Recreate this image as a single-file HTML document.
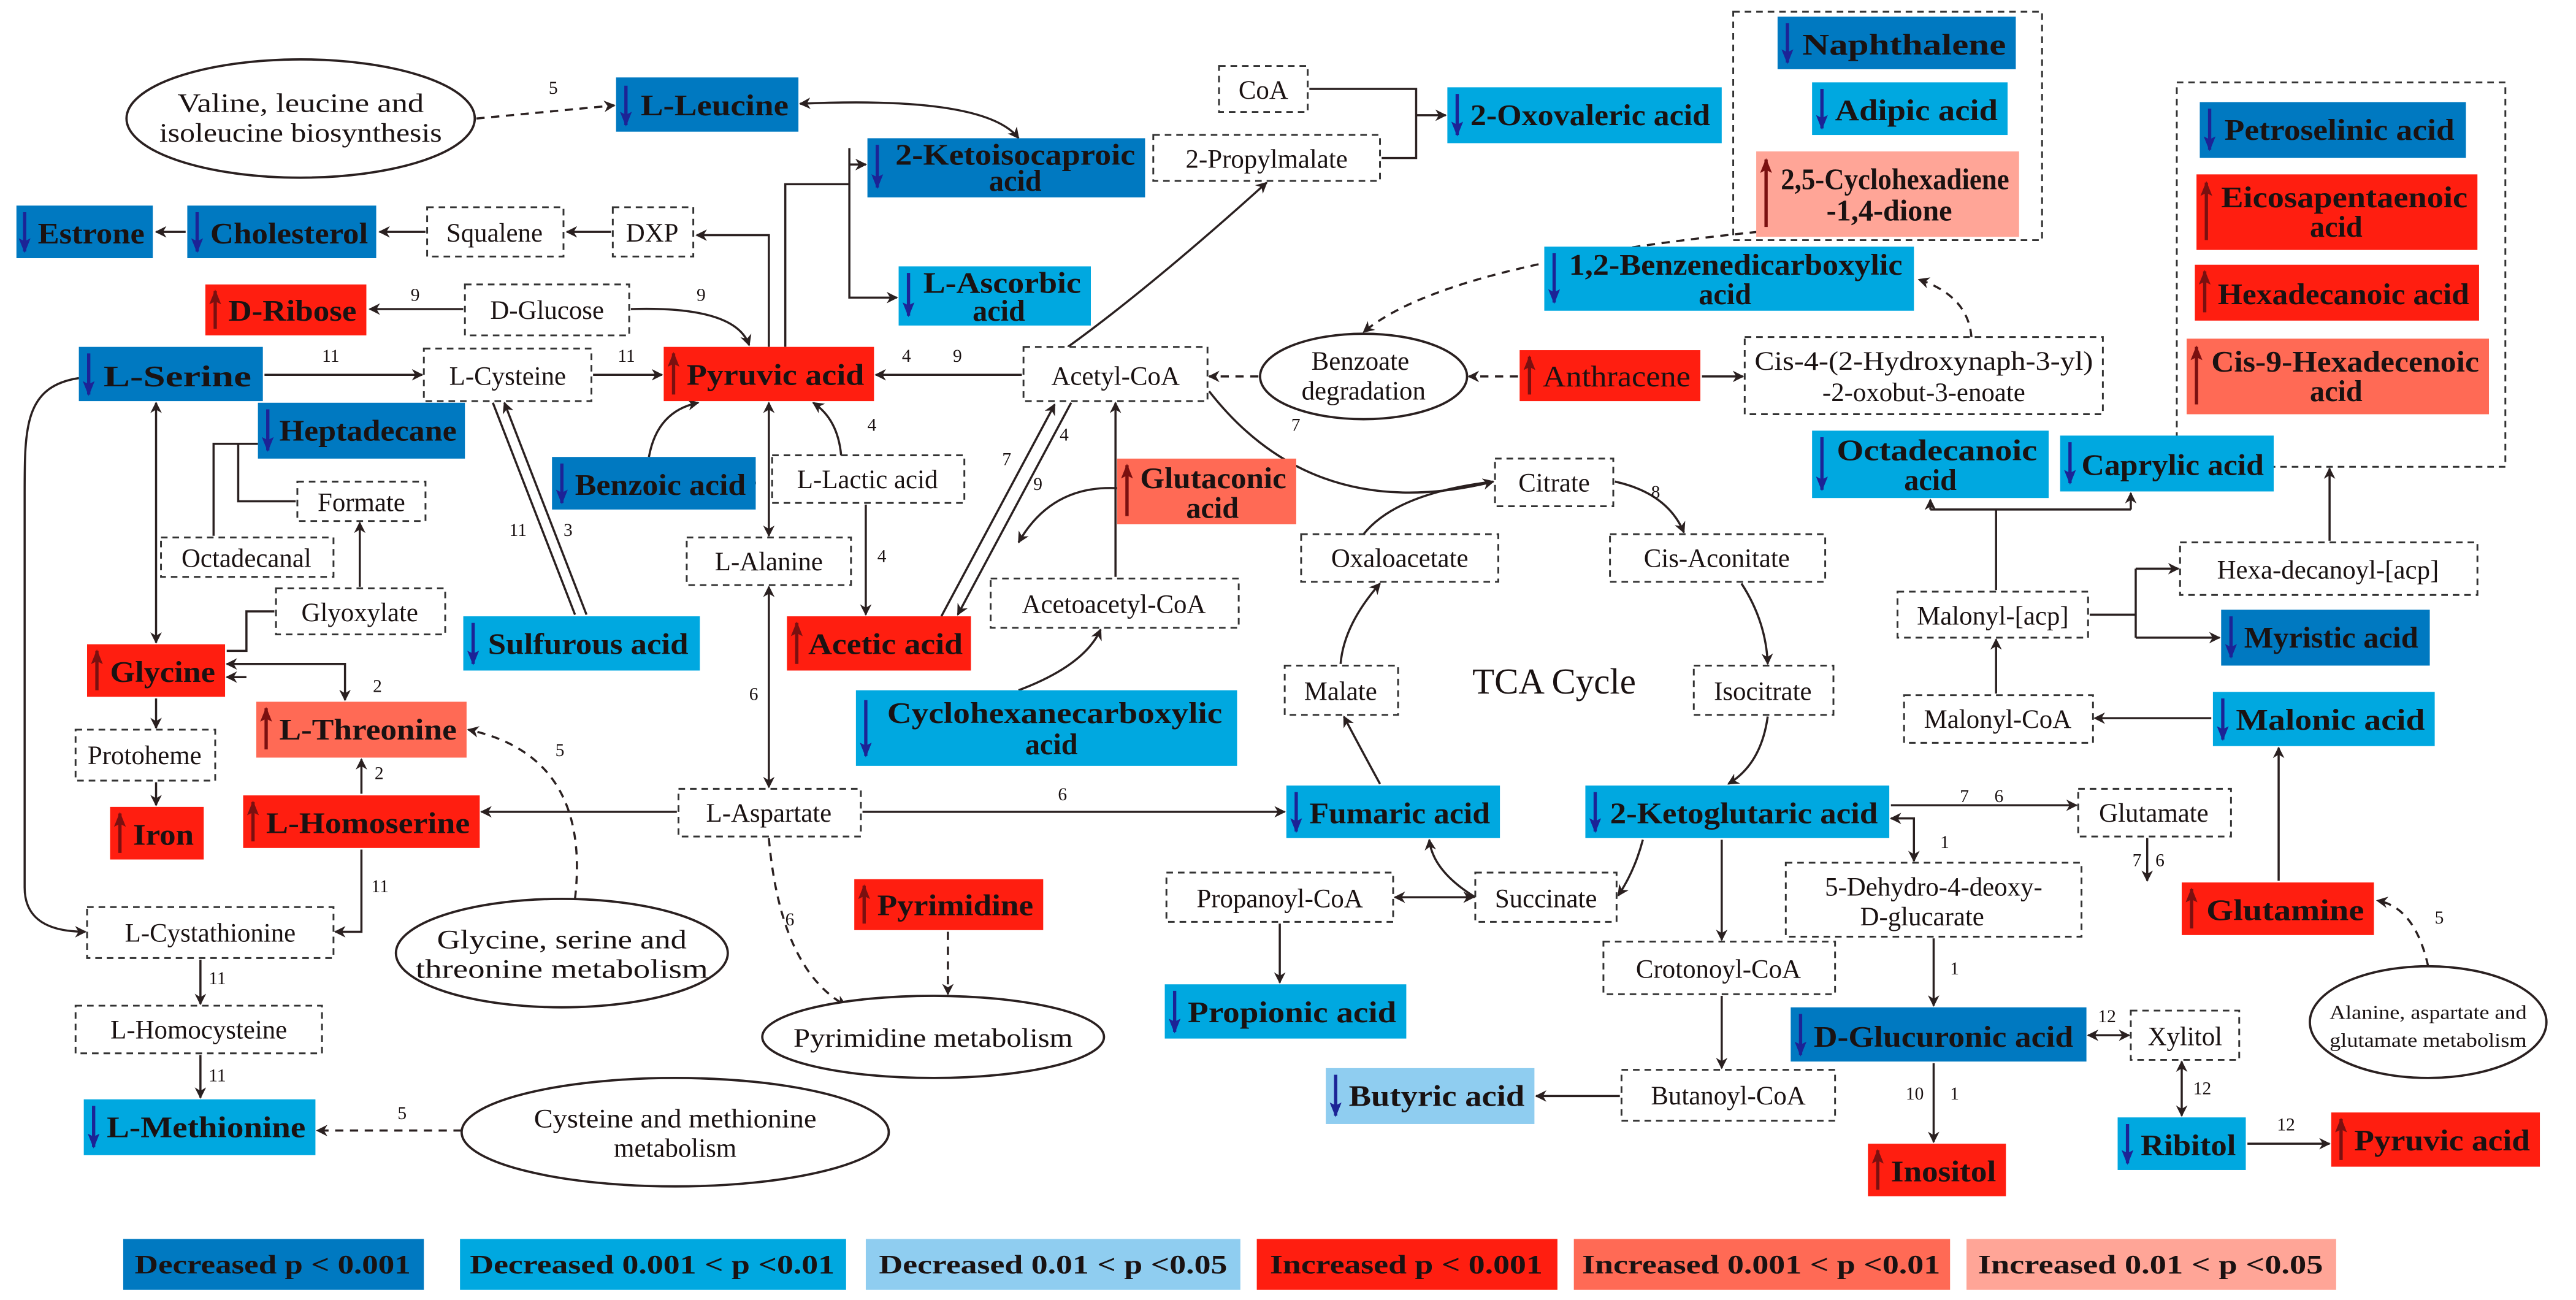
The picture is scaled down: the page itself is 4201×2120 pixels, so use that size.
<!DOCTYPE html>
<html><head><meta charset="utf-8"><style>
html,body{margin:0;padding:0;background:#fff;}
svg{display:block;}
text{font-family:"Liberation Serif",serif;fill:#1a1212;}
.b{font-weight:bold;font-size:18px;}
.n{font-size:16px;}
.s{font-size:11px;}
.db{fill:#0079c1}.mb{fill:#00a8e0}.lb{fill:#8fcdf0}.rd{fill:#ff1e10}.co{fill:#ff6a55}.lc{fill:#ffa597}
.dash{fill:#fff;stroke:#333;stroke-width:1.1;stroke-dasharray:4 3}
.ln{fill:none;stroke:#2a2020;stroke-width:1.3}
.dl{fill:none;stroke:#2a2020;stroke-width:1.3;stroke-dasharray:5 4}
.ell{fill:#fff;stroke:#2a2020;stroke-width:1.4}
.dn{stroke:#1c2396;stroke-width:2}.up{stroke:#7a1010;stroke-width:2}
</style></head><body>
<svg width="4201" height="2120" viewBox="0 0 1568 791" xmlns="http://www.w3.org/2000/svg">
<defs>
<marker id="a" viewBox="0 0 10 10" refX="9" refY="5" markerWidth="7" markerHeight="7" markerUnits="userSpaceOnUse" orient="auto-start-reverse"><path d="M0,0 L10,5 L0,10 L3,5 z" fill="#2a2020"/></marker>
<marker id="ad" viewBox="0 0 10 10" refX="9" refY="5" markerWidth="9" markerHeight="9" markerUnits="userSpaceOnUse" orient="auto"><path d="M0,1 L10,5 L0,9 L2,5 z" fill="#1c2396"/></marker>
<marker id="au" viewBox="0 0 10 10" refX="9" refY="5" markerWidth="9" markerHeight="9" markerUnits="userSpaceOnUse" orient="auto"><path d="M0,1 L10,5 L0,9 L2,5 z" fill="#7a1010"/></marker>
</defs>
<rect width="1568" height="791" fill="#fff"/>

<!-- group dotted boxes -->
<rect x="1055" y="7" width="188" height="139" class="dash"/>
<rect x="1325" y="50" width="200" height="234" class="dash"/>

<!-- ============ EDGES ============ -->
<path d="M290,72 L374,64" class="dl" marker-end="url(#a)"/><text x="334" y="57" class="s">5</text>
<path d="M487,63 Q600,58 620,84" class="ln" marker-start="url(#a)" marker-end="url(#a)"/>
<path d="M468,211 L468,143 L424,143" class="ln" marker-end="url(#a)"/>
<path d="M478,211 L478,112 L517,112" class="ln"/>
<path d="M517,100 L527,100" class="ln" marker-end="url(#a)"/>
<path d="M517,90 L517,181 L546,181" class="ln" marker-end="url(#a)"/>
<path d="M517,100 L527,100" class="ln" marker-end="url(#a)"/>
<path d="M372,141 L345,141" class="ln" marker-end="url(#a)"/>
<path d="M259,141 L231,141" class="ln" marker-end="url(#a)"/>
<path d="M113,141 L95,141" class="ln" marker-end="url(#a)"/>
<path d="M282,188 L225,188" class="ln" marker-end="url(#a)"/><text x="250" y="183" class="s">9</text>
<path d="M384,188 Q448,186 456,210" class="ln" marker-end="url(#a)"/><text x="424" y="183" class="s">9</text>
<path d="M161,228 L257,228" class="ln" marker-end="url(#a)"/><text x="196" y="220" class="s">11</text>
<path d="M361,228 L403,228" class="ln" marker-end="url(#a)"/><text x="376" y="220" class="s">11</text>
<path d="M622,228 L533,228" class="ln" marker-end="url(#a)"/><text x="549" y="220" class="s">4</text><text x="580" y="220" class="s">9</text>
<path d="M650,211 Q700,175 771,111" class="ln" marker-end="url(#a)"/>
<path d="M797,54 L862,54 L862,96 L841,96" class="ln"/>
<path d="M862,70 L880,70" class="ln" marker-end="url(#a)"/>
<path d="M766,229 L736,229" class="dl" marker-end="url(#a)"/>
<path d="M924,229 L894,229" class="dl" marker-end="url(#a)"/>
<path d="M1036,229 L1061,229" class="ln" marker-end="url(#a)"/>
<path d="M1200,205 Q1198,180 1168,170" class="dl" marker-end="url(#a)"/>
<path d="M1070,141 Q880,160 830,202" class="dl" marker-end="url(#a)"/>
<path d="M736,238 Q800,320 909,293" class="ln" marker-end="url(#a)"/><text x="786" y="262" class="s">7</text>
<path d="M830,325 Q850,300 909,293" class="ln"/>
<path d="M983,293 Q1015,300 1025,324" class="ln" marker-end="url(#a)"/><text x="1005" y="303" class="s">8</text>
<path d="M1060,355 Q1075,378 1076,404" class="ln" marker-end="url(#a)"/>
<path d="M1076,436 Q1072,465 1052,477" class="ln" marker-end="url(#a)"/>
<path d="M1000,511 Q995,530 985,545" class="ln" marker-end="url(#a)"/>
<path d="M898,546 Q872,530 870,511" class="ln" marker-end="url(#a)"/>
<path d="M840,477 Q828,455 818,436" class="ln" marker-end="url(#a)"/>
<path d="M816,404 Q818,380 840,355" class="ln" marker-end="url(#a)"/>
<path d="M849,546 L897,546" class="ln" marker-start="url(#a)" marker-end="url(#a)"/>
<path d="M779,562 L779,598" class="ln" marker-end="url(#a)"/>
<path d="M1048,511 L1048,572" class="ln" marker-end="url(#a)"/>
<path d="M1048,606 L1048,650" class="ln" marker-end="url(#a)"/>
<path d="M986,667 L935,667" class="ln" marker-end="url(#a)"/>
<path d="M1151,490 L1264,490" class="ln" marker-end="url(#a)"/><text x="1193" y="488" class="s">7</text><text x="1214" y="488" class="s">6</text>
<path d="M1151,498 L1165,498 L1165,524" class="ln" marker-start="url(#a)" marker-end="url(#a)"/><text x="1181" y="516" class="s">1</text>
<path d="M1177,571 L1177,612" class="ln" marker-end="url(#a)"/><text x="1187" y="593" class="s">1</text>
<path d="M1177,647 L1177,695" class="ln" marker-end="url(#a)"/><text x="1160" y="669" class="s">10</text><text x="1187" y="669" class="s">1</text>
<path d="M1271,630 L1296,630" class="ln" marker-start="url(#a)" marker-end="url(#a)"/><text x="1277" y="622" class="s">12</text>
<path d="M1328,646 L1328,679" class="ln" marker-start="url(#a)" marker-end="url(#a)"/><text x="1335" y="666" class="s">12</text>
<path d="M1368,696 L1418,696" class="ln" marker-end="url(#a)"/><text x="1386" y="688" class="s">12</text>
<path d="M1307,510 L1307,536" class="ln" marker-end="url(#a)"/><text x="1298" y="527" class="s">7</text><text x="1312" y="527" class="s">6</text>
<path d="M1387,536 L1387,455" class="ln" marker-end="url(#a)"/>
<path d="M1346,437 L1275,437" class="ln" marker-end="url(#a)"/>
<path d="M1215,422 L1215,389" class="ln" marker-end="url(#a)"/>
<path d="M1272,374 L1300,374" class="ln"/>
<path d="M1300,346 L1300,388" class="ln"/>
<path d="M1300,346 L1326,346" class="ln" marker-end="url(#a)"/>
<path d="M1300,388 L1351,388" class="ln" marker-end="url(#a)"/>
<path d="M1215,359 L1215,310" class="ln"/>
<path d="M1175,310 L1297,310" class="ln"/>
<path d="M1175,310 L1175,304" class="ln" marker-end="url(#a)"/>
<path d="M1297,310 L1297,300" class="ln" marker-end="url(#a)"/>
<path d="M1418,329 L1418,285" class="ln" marker-end="url(#a)"/>
<path d="M1478,588 Q1470,552 1447,548" class="dl" marker-end="url(#a)"/><text x="1482" y="562" class="s">5</text>
<path d="M468,245 L468,326" class="ln" marker-start="url(#a)" marker-end="url(#a)"/><text x="455" y="296" class="s">6</text>
<path d="M468,357 L468,479" class="ln" marker-start="url(#a)" marker-end="url(#a)"/><text x="456" y="426" class="s">6</text>
<path d="M412,494 L293,494" class="ln" marker-end="url(#a)"/>
<path d="M525,494 L782,494" class="ln" marker-end="url(#a)"/><text x="644" y="487" class="s">6</text>
<path d="M468,510 Q475,590 515,612" class="dl" marker-end="url(#a)"/><text x="478" y="563" class="s">6</text>
<path d="M577,567 L577,605" class="dl" marker-end="url(#a)"/>
<path d="M220,483 L220,462" class="ln" marker-end="url(#a)"/><text x="228" y="474" class="s">2</text>
<path d="M138,404 L210,404 L210,426" class="ln" marker-start="url(#a)" marker-end="url(#a)"/><text x="227" y="421" class="s">2</text>
<path d="M220,517 L220,567 L204,567" class="ln" marker-end="url(#a)"/><text x="226" y="543" class="s">11</text>
<path d="M48,230 C15,235 15,260 15,300 L15,540 C15,560 30,567 52,567" class="ln" marker-end="url(#a)"/>
<path d="M95,245 L95,391" class="ln" marker-start="url(#a)" marker-end="url(#a)"/>
<path d="M157,270 L130,270 L130,326" class="ln"/>
<path d="M145,270 L145,305 L180,305" class="ln"/>
<path d="M219,357 L219,318" class="ln" marker-end="url(#a)"/>
<path d="M167,372 L150,372 L150,396 L138,396" class="ln"/>
<path d="M138,412 L150,412 L138,412" class="ln" marker-end="url(#a)"/>
<path d="M95,425 L95,443" class="ln" marker-end="url(#a)"/>
<path d="M95,476 L95,490" class="ln" marker-end="url(#a)"/>
<path d="M350,547 Q360,460 285,444" class="dl" marker-end="url(#a)"/><text x="338" y="460" class="s">5</text>
<path d="M122,584 L122,611" class="ln" marker-end="url(#a)"/><text x="127" y="599" class="s">11</text>
<path d="M122,642 L122,668" class="ln" marker-end="url(#a)"/><text x="127" y="658" class="s">11</text>
<path d="M281,688 L193,688" class="dl" marker-end="url(#a)"/><text x="242" y="681" class="s">5</text>
<path d="M300,245 L350,374" class="ln"/>
<path d="M357,374 L307,245" class="ln" marker-end="url(#a)"/>
<text x="310" y="326" class="s">11</text><text x="343" y="326" class="s">3</text>
<path d="M395,278 Q400,250 425,245" class="ln" marker-end="url(#a)"/>
<path d="M512,277 Q510,255 495,245" class="ln" marker-end="url(#a)"/><text x="528" y="262" class="s">4</text>
<path d="M527,307 L527,374" class="ln" marker-end="url(#a)"/><text x="534" y="342" class="s">4</text>
<path d="M573,375 L642,246" class="ln" marker-end="url(#a)"/>
<path d="M652,245 L583,374" class="ln" marker-end="url(#a)"/>
<text x="610" y="283" class="s">7</text><text x="645" y="268" class="s">4</text><text x="629" y="298" class="s">9</text>
<path d="M680,297 Q640,295 620,330" class="ln" marker-end="url(#a)"/>
<path d="M679,351 L679,245" class="ln" marker-end="url(#a)"/>
<path d="M620,420 Q660,405 670,383" class="ln" marker-end="url(#a)"/>

<!-- ============ ELLIPSES ============ -->
<ellipse cx="183" cy="72" rx="106" ry="36" class="ell"/>
<text x="183" y="68" class="n" text-anchor="middle" textLength="150" lengthAdjust="spacingAndGlyphs">Valine, leucine and</text>
<text x="183" y="86" class="n" text-anchor="middle" textLength="172" lengthAdjust="spacingAndGlyphs">isoleucine biosynthesis</text>
<ellipse cx="830" cy="229" rx="63" ry="26" class="ell"/>
<text x="828" y="225" class="n" text-anchor="middle">Benzoate</text>
<text x="830" y="243" class="n" text-anchor="middle">degradation</text>
<ellipse cx="342" cy="580" rx="101" ry="33" class="ell"/>
<text x="342" y="577" class="n" text-anchor="middle" textLength="152" lengthAdjust="spacingAndGlyphs">Glycine, serine and</text>
<text x="342" y="595" class="n" text-anchor="middle" textLength="178" lengthAdjust="spacingAndGlyphs">threonine metabolism</text>
<ellipse cx="1478" cy="622" rx="72" ry="34" class="ell"/>
<text x="1478" y="620" style="font-size:12px" text-anchor="middle" textLength="120" lengthAdjust="spacingAndGlyphs">Alanine, aspartate and</text>
<text x="1478" y="637" style="font-size:12px" text-anchor="middle" textLength="120" lengthAdjust="spacingAndGlyphs">glutamate metabolism</text>
<ellipse cx="568" cy="631" rx="104" ry="25" class="ell"/>
<text x="568" y="637" class="n" text-anchor="middle" textLength="170" lengthAdjust="spacingAndGlyphs">Pyrimidine metabolism</text>
<ellipse cx="411" cy="689" rx="130" ry="33" class="ell"/>
<text x="411" y="686" class="n" text-anchor="middle" textLength="172" lengthAdjust="spacingAndGlyphs">Cysteine and methionine</text>
<text x="411" y="704" class="n" text-anchor="middle">metabolism</text>

<text x="946" y="422" style="font-size:22px" text-anchor="middle">TCA Cycle</text>

<!-- ============ DASHED NODES ============ -->
<g class="n">
<rect x="742" y="40" width="54" height="28" class="dash"/><text x="769" y="60" text-anchor="middle">CoA</text>
<rect x="702" y="82" width="138" height="28" class="dash"/><text x="771" y="102" text-anchor="middle">2-Propylmalate</text>
<rect x="260" y="126" width="83" height="30" class="dash"/><text x="301" y="147" text-anchor="middle">Squalene</text>
<rect x="373" y="126" width="49" height="30" class="dash"/><text x="397" y="147" text-anchor="middle">DXP</text>
<rect x="283" y="173" width="100" height="31" class="dash"/><text x="333" y="194" text-anchor="middle">D-Glucose</text>
<rect x="258" y="212" width="102" height="32" class="dash"/><text x="309" y="234" text-anchor="middle">L-Cysteine</text>
<rect x="623" y="211" width="112" height="33" class="dash"/><text x="679" y="234" text-anchor="middle">Acetyl-CoA</text>
<rect x="1062" y="205" width="218" height="47" class="dash"/><text x="1171" y="225" text-anchor="middle" textLength="206" lengthAdjust="spacingAndGlyphs">Cis-4-(2-Hydroxynaph-3-yl)</text><text x="1171" y="244" text-anchor="middle">-2-oxobut-3-enoate</text>
<rect x="181" y="293" width="78" height="24" class="dash"/><text x="220" y="311" text-anchor="middle">Formate</text>
<rect x="470" y="277" width="117" height="29" class="dash"/><text x="528" y="297" text-anchor="middle">L-Lactic acid</text>
<rect x="910" y="279" width="72" height="29" class="dash"/><text x="946" y="299" text-anchor="middle">Citrate</text>
<rect x="98" y="327" width="105" height="24" class="dash"/><text x="150" y="345" text-anchor="middle">Octadecanal</text>
<rect x="418" y="327" width="100" height="29" class="dash"/><text x="468" y="347" text-anchor="middle">L-Alanine</text>
<rect x="792" y="325" width="120" height="29" class="dash"/><text x="852" y="345" text-anchor="middle">Oxaloacetate</text>
<rect x="980" y="325" width="131" height="29" class="dash"/><text x="1045" y="345" text-anchor="middle">Cis-Aconitate</text>
<rect x="1327" y="330" width="181" height="32" class="dash"/><text x="1417" y="352" text-anchor="middle">Hexa-decanoyl-[acp]</text>
<rect x="168" y="358" width="103" height="28" class="dash"/><text x="219" y="378" text-anchor="middle">Glyoxylate</text>
<rect x="603" y="352" width="151" height="30" class="dash"/><text x="678" y="373" text-anchor="middle">Acetoacetyl-CoA</text>
<rect x="1155" y="360" width="116" height="28" class="dash"/><text x="1213" y="380" text-anchor="middle">Malonyl-[acp]</text>
<rect x="782" y="405" width="69" height="30" class="dash"/><text x="816" y="426" text-anchor="middle">Malate</text>
<rect x="1031" y="405" width="85" height="30" class="dash"/><text x="1073" y="426" text-anchor="middle">Isocitrate</text>
<rect x="1159" y="423" width="115" height="29" class="dash"/><text x="1216" y="443" text-anchor="middle">Malonyl-CoA</text>
<rect x="46" y="444" width="85" height="31" class="dash"/><text x="88" y="465" text-anchor="middle">Protoheme</text>
<rect x="413" y="480" width="111" height="29" class="dash"/><text x="468" y="500" text-anchor="middle">L-Aspartate</text>
<rect x="1265" y="480" width="93" height="29" class="dash"/><text x="1311" y="500" text-anchor="middle">Glutamate</text>
<rect x="710" y="531" width="138" height="30" class="dash"/><text x="779" y="552" text-anchor="middle">Propanoyl-CoA</text>
<rect x="898" y="531" width="86" height="30" class="dash"/><text x="941" y="552" text-anchor="middle">Succinate</text>
<rect x="1087" y="525" width="180" height="45" class="dash"/><text x="1177" y="545" text-anchor="middle">5-Dehydro-4-deoxy-</text><text x="1170" y="563" text-anchor="middle">D-glucarate</text>
<rect x="53" y="552" width="150" height="31" class="dash"/><text x="128" y="573" text-anchor="middle">L-Cystathionine</text>
<rect x="976" y="573" width="141" height="32" class="dash"/><text x="1046" y="595" text-anchor="middle">Crotonoyl-CoA</text>
<rect x="46" y="612" width="150" height="29" class="dash"/><text x="121" y="632" text-anchor="middle">L-Homocysteine</text>
<rect x="1297" y="615" width="66" height="30" class="dash"/><text x="1330" y="636" text-anchor="middle">Xylitol</text>
<rect x="987" y="651" width="130" height="31" class="dash"/><text x="1052" y="672" text-anchor="middle">Butanoyl-CoA</text>
</g>

<!-- ============ COLORED NODES ============ -->
<g class="b">
<!-- dark blue -->
<rect x="375" y="47" width="111" height="33" class="db"/><line x1="381" y1="52" x2="381" y2="76" class="dn" marker-end="url(#ad)"/><text x="390" y="70" textLength="90" lengthAdjust="spacingAndGlyphs">L-Leucine</text>
<rect x="528" y="84" width="169" height="36" class="db"/><line x1="534" y1="88" x2="534" y2="114" class="dn" marker-end="url(#ad)"/><text x="545" y="100" textLength="146" lengthAdjust="spacingAndGlyphs">2-Ketoisocaproic</text><text x="618" y="116" text-anchor="middle">acid</text>
<rect x="1082" y="10" width="145" height="32" class="db"/><line x1="1088" y1="14" x2="1088" y2="38" class="dn" marker-end="url(#ad)"/><text x="1097" y="33" textLength="124" lengthAdjust="spacingAndGlyphs">Naphthalene</text>
<rect x="1339" y="62" width="162" height="34" class="db"/><line x1="1345" y1="66" x2="1345" y2="91" class="dn" marker-end="url(#ad)"/><text x="1354" y="85" textLength="140" lengthAdjust="spacingAndGlyphs">Petroselinic acid</text>
<rect x="10" y="125" width="83" height="32" class="db"/><line x1="15" y1="129" x2="15" y2="153" class="dn" marker-end="url(#ad)"/><text x="23" y="148" textLength="65" lengthAdjust="spacingAndGlyphs">Estrone</text>
<rect x="114" y="125" width="115" height="32" class="db"/><line x1="120" y1="129" x2="120" y2="153" class="dn" marker-end="url(#ad)"/><text x="128" y="148" textLength="96" lengthAdjust="spacingAndGlyphs">Cholesterol</text>
<rect x="48" y="211" width="112" height="33" class="db"/><line x1="54" y1="215" x2="54" y2="240" class="dn" marker-end="url(#ad)"/><text x="63" y="235" textLength="90" lengthAdjust="spacingAndGlyphs">L-Serine</text>
<rect x="157" y="245" width="126" height="34" class="db"/><line x1="163" y1="249" x2="163" y2="274" class="dn" marker-end="url(#ad)"/><text x="170" y="268" textLength="108" lengthAdjust="spacingAndGlyphs">Heptadecane</text>
<rect x="336" y="278" width="124" height="32" class="db"/><line x1="342" y1="282" x2="342" y2="306" class="dn" marker-end="url(#ad)"/><text x="350" y="301" textLength="104" lengthAdjust="spacingAndGlyphs">Benzoic acid</text>
<rect x="1352" y="371" width="127" height="34" class="db"/><line x1="1358" y1="375" x2="1358" y2="400" class="dn" marker-end="url(#ad)"/><text x="1366" y="394" textLength="106" lengthAdjust="spacingAndGlyphs">Myristic acid</text>
<rect x="1090" y="613" width="180" height="33" class="db"/><line x1="1096" y1="617" x2="1096" y2="642" class="dn" marker-end="url(#ad)"/><text x="1104" y="637" textLength="158" lengthAdjust="spacingAndGlyphs">D-Glucuronic acid</text>
<!-- mid blue -->
<rect x="881" y="53" width="167" height="34" class="mb"/><line x1="887" y1="57" x2="887" y2="82" class="dn" marker-end="url(#ad)"/><text x="895" y="76" textLength="146" lengthAdjust="spacingAndGlyphs">2-Oxovaleric acid</text>
<rect x="1103" y="50" width="119" height="32" class="mb"/><line x1="1109" y1="54" x2="1109" y2="78" class="dn" marker-end="url(#ad)"/><text x="1117" y="73" textLength="99" lengthAdjust="spacingAndGlyphs">Adipic acid</text>
<rect x="547" y="162" width="117" height="36" class="mb"/><line x1="553" y1="166" x2="553" y2="192" class="dn" marker-end="url(#ad)"/><text x="562" y="178" textLength="96" lengthAdjust="spacingAndGlyphs">L-Ascorbic</text><text x="608" y="195" text-anchor="middle">acid</text>
<rect x="940" y="150" width="225" height="39" class="mb"/><line x1="946" y1="154" x2="946" y2="184" class="dn" marker-end="url(#ad)"/><text x="955" y="167" textLength="203" lengthAdjust="spacingAndGlyphs">1,2-Benzenedicarboxylic</text><text x="1050" y="185" text-anchor="middle">acid</text>
<rect x="1103" y="262" width="144" height="41" class="mb"/><line x1="1109" y1="266" x2="1109" y2="298" class="dn" marker-end="url(#ad)"/><text x="1118" y="280" textLength="122" lengthAdjust="spacingAndGlyphs">Octadecanoic</text><text x="1175" y="298" text-anchor="middle">acid</text>
<rect x="1254" y="265" width="130" height="34" class="mb"/><line x1="1260" y1="269" x2="1260" y2="294" class="dn" marker-end="url(#ad)"/><text x="1267" y="289" textLength="111" lengthAdjust="spacingAndGlyphs">Caprylic acid</text>
<rect x="282" y="375" width="144" height="33" class="mb"/><line x1="288" y1="379" x2="288" y2="404" class="dn" marker-end="url(#ad)"/><text x="297" y="398" textLength="122" lengthAdjust="spacingAndGlyphs">Sulfurous acid</text>
<rect x="1347" y="421" width="135" height="33" class="mb"/><line x1="1353" y1="425" x2="1353" y2="450" class="dn" marker-end="url(#ad)"/><text x="1361" y="444" textLength="115" lengthAdjust="spacingAndGlyphs">Malonic acid</text>
<rect x="521" y="420" width="232" height="46" class="mb"/><line x1="527" y1="426" x2="527" y2="460" class="dn" marker-end="url(#ad)"/><text x="540" y="440" textLength="204" lengthAdjust="spacingAndGlyphs">Cyclohexanecarboxylic</text><text x="640" y="459" text-anchor="middle">acid</text>
<rect x="783" y="478" width="130" height="32" class="mb"/><line x1="789" y1="482" x2="789" y2="506" class="dn" marker-end="url(#ad)"/><text x="797" y="501" textLength="110" lengthAdjust="spacingAndGlyphs">Fumaric acid</text>
<rect x="965" y="478" width="185" height="32" class="mb"/><line x1="971" y1="482" x2="971" y2="506" class="dn" marker-end="url(#ad)"/><text x="980" y="501" textLength="163" lengthAdjust="spacingAndGlyphs">2-Ketoglutaric acid</text>
<rect x="709" y="599" width="147" height="33" class="mb"/><line x1="715" y1="603" x2="715" y2="628" class="dn" marker-end="url(#ad)"/><text x="723" y="622" textLength="127" lengthAdjust="spacingAndGlyphs">Propionic acid</text>
<rect x="51" y="669" width="141" height="34" class="mb"/><line x1="57" y1="673" x2="57" y2="698" class="dn" marker-end="url(#ad)"/><text x="65" y="692" textLength="121" lengthAdjust="spacingAndGlyphs">L-Methionine</text>
<rect x="1289" y="680" width="78" height="32" class="mb"/><line x1="1295" y1="684" x2="1295" y2="708" class="dn" marker-end="url(#ad)"/><text x="1303" y="703" textLength="58" lengthAdjust="spacingAndGlyphs">Ribitol</text>
<!-- light blue -->
<rect x="807" y="650" width="127" height="34" class="lb"/><line x1="813" y1="654" x2="813" y2="679" class="dn" marker-end="url(#ad)"/><text x="821" y="673" textLength="107" lengthAdjust="spacingAndGlyphs">Butyric acid</text>
<!-- red -->
<rect x="125" y="173" width="98" height="31" class="rd"/><line x1="131" y1="200" x2="131" y2="177" class="up" marker-end="url(#au)"/><text x="139" y="195" textLength="78" lengthAdjust="spacingAndGlyphs">D-Ribose</text>
<rect x="404" y="211" width="128" height="33" class="rd"/><line x1="410" y1="240" x2="410" y2="215" class="up" marker-end="url(#au)"/><text x="418" y="234" textLength="108" lengthAdjust="spacingAndGlyphs">Pyruvic acid</text>
<rect x="925" y="213" width="110" height="31" class="rd"/><line x1="931" y1="240" x2="931" y2="217" class="up" marker-end="url(#au)"/><text x="939" y="235" style="font-weight:normal" textLength="90" lengthAdjust="spacingAndGlyphs">Anthracene</text>
<rect x="1337" y="106" width="171" height="46" class="rd"/><line x1="1343" y1="146" x2="1343" y2="111" class="up" marker-end="url(#au)"/><text x="1352" y="126" textLength="150" lengthAdjust="spacingAndGlyphs">Eicosapentaenoic</text><text x="1422" y="144" text-anchor="middle">acid</text>
<rect x="1336" y="161" width="173" height="34" class="rd"/><line x1="1342" y1="190" x2="1342" y2="165" class="up" marker-end="url(#au)"/><text x="1350" y="185" textLength="153" lengthAdjust="spacingAndGlyphs">Hexadecanoic acid</text>
<rect x="479" y="375" width="112" height="33" class="rd"/><line x1="485" y1="404" x2="485" y2="379" class="up" marker-end="url(#au)"/><text x="492" y="398" textLength="94" lengthAdjust="spacingAndGlyphs">Acetic acid</text>
<rect x="53" y="392" width="84" height="32" class="rd"/><line x1="59" y1="420" x2="59" y2="396" class="up" marker-end="url(#au)"/><text x="67" y="415" textLength="64" lengthAdjust="spacingAndGlyphs">Glycine</text>
<rect x="67" y="491" width="57" height="32" class="rd"/><line x1="73" y1="519" x2="73" y2="495" class="up" marker-end="url(#au)"/><text x="81" y="514" textLength="37" lengthAdjust="spacingAndGlyphs">Iron</text>
<rect x="148" y="484" width="144" height="32" class="rd"/><line x1="154" y1="512" x2="154" y2="488" class="up" marker-end="url(#au)"/><text x="162" y="507" textLength="124" lengthAdjust="spacingAndGlyphs">L-Homoserine</text>
<rect x="520" y="535" width="115" height="31" class="rd"/><line x1="526" y1="562" x2="526" y2="539" class="up" marker-end="url(#au)"/><text x="534" y="557" textLength="95" lengthAdjust="spacingAndGlyphs">Pyrimidine</text>
<rect x="1328" y="537" width="117" height="32" class="rd"/><line x1="1334" y1="565" x2="1334" y2="541" class="up" marker-end="url(#au)"/><text x="1343" y="560" textLength="96" lengthAdjust="spacingAndGlyphs">Glutamine</text>
<rect x="1419" y="677" width="127" height="33" class="rd"/><line x1="1425" y1="706" x2="1425" y2="681" class="up" marker-end="url(#au)"/><text x="1433" y="700" textLength="107" lengthAdjust="spacingAndGlyphs">Pyruvic acid</text>
<rect x="1137" y="696" width="84" height="32" class="rd"/><line x1="1143" y1="724" x2="1143" y2="700" class="up" marker-end="url(#au)"/><text x="1151" y="719" textLength="64" lengthAdjust="spacingAndGlyphs">Inositol</text>
<!-- coral -->
<rect x="680" y="279" width="109" height="40" class="co"/><line x1="686" y1="314" x2="686" y2="283" class="up" marker-end="url(#au)"/><text x="694" y="297" textLength="89" lengthAdjust="spacingAndGlyphs">Glutaconic</text><text x="738" y="315" text-anchor="middle">acid</text>
<rect x="156" y="427" width="128" height="34" class="co"/><line x1="162" y1="456" x2="162" y2="431" class="up" marker-end="url(#au)"/><text x="170" y="450" textLength="108" lengthAdjust="spacingAndGlyphs">L-Threonine</text>
<rect x="1331" y="206" width="184" height="46" class="co"/><line x1="1337" y1="246" x2="1337" y2="211" class="up" marker-end="url(#au)"/><text x="1346" y="226" textLength="163" lengthAdjust="spacingAndGlyphs">Cis-9-Hexadecenoic</text><text x="1422" y="244" text-anchor="middle">acid</text>
<!-- light coral -->
<rect x="1069" y="92" width="160" height="52" class="lc"/><line x1="1075" y1="138" x2="1075" y2="97" class="up" marker-end="url(#au)"/><text x="1084" y="115" textLength="139" lengthAdjust="spacingAndGlyphs">2,5-Cyclohexadiene</text><text x="1150" y="134" text-anchor="middle">-1,4-dione</text>
</g>

<!-- ============ LEGEND ============ -->
<g style="font-weight:bold;font-size:16px">
<rect x="75" y="754" width="183" height="31" class="db"/><text x="166" y="775" text-anchor="middle" textLength="168" lengthAdjust="spacingAndGlyphs">Decreased p &lt; 0.001</text>
<rect x="280" y="754" width="235" height="31" class="mb"/><text x="397" y="775" text-anchor="middle" textLength="222" lengthAdjust="spacingAndGlyphs">Decreased 0.001 &lt; p &lt;0.01</text>
<rect x="527" y="754" width="228" height="31" class="lb"/><text x="641" y="775" text-anchor="middle" textLength="212" lengthAdjust="spacingAndGlyphs">Decreased 0.01 &lt; p &lt;0.05</text>
<rect x="765" y="754" width="183" height="31" class="rd"/><text x="856" y="775" text-anchor="middle" textLength="166" lengthAdjust="spacingAndGlyphs">Increased p &lt; 0.001</text>
<rect x="958" y="754" width="229" height="31" class="co"/><text x="1072" y="775" text-anchor="middle" textLength="218" lengthAdjust="spacingAndGlyphs">Increased 0.001 &lt; p &lt;0.01</text>
<rect x="1197" y="754" width="225" height="31" class="lc"/><text x="1309" y="775" text-anchor="middle" textLength="210" lengthAdjust="spacingAndGlyphs">Increased 0.01 &lt; p &lt;0.05</text>
</g>
</svg>
</body></html>
